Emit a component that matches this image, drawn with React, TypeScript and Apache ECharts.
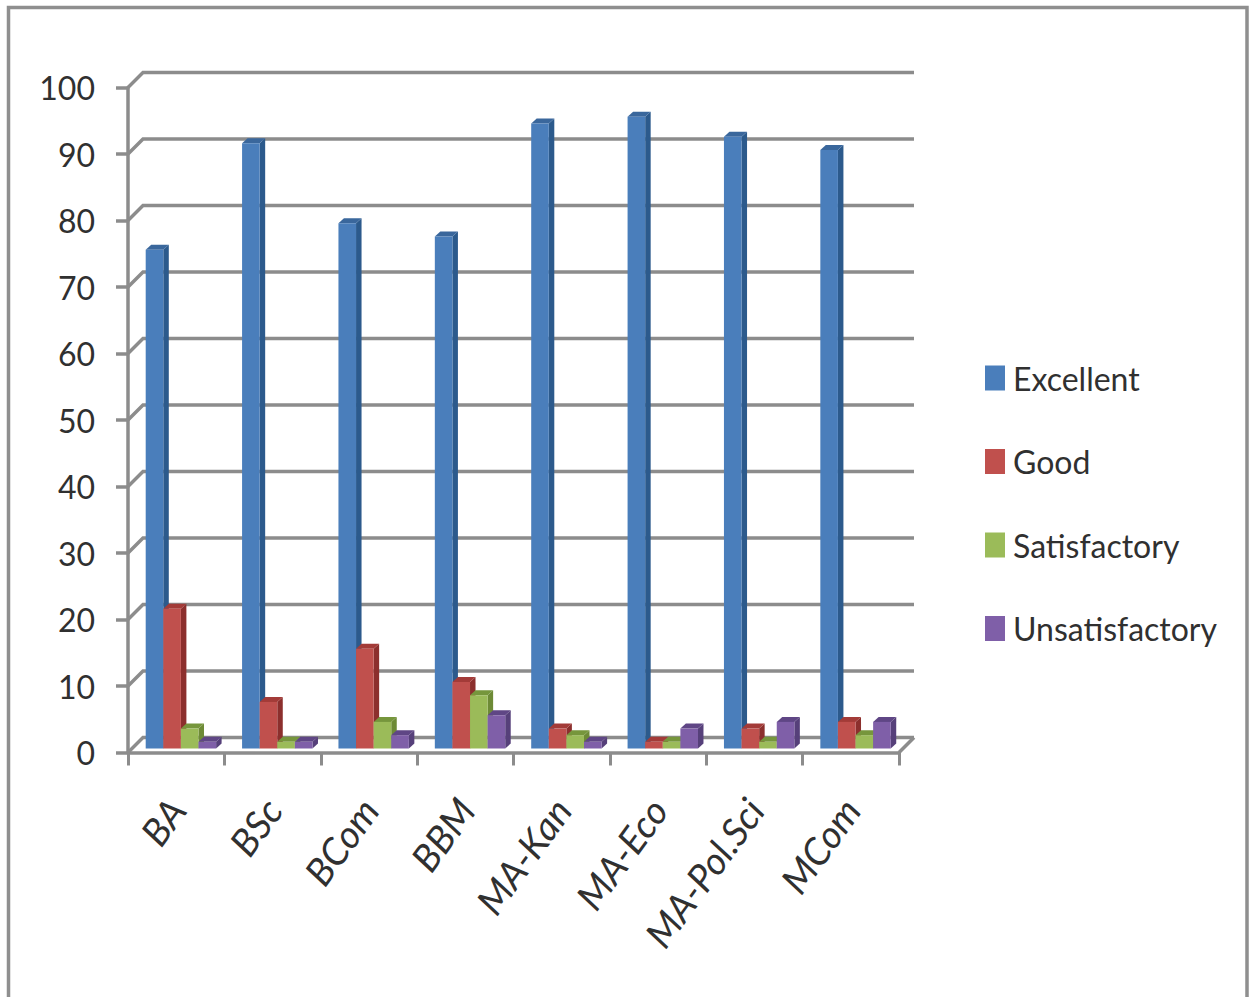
import React, { useEffect, useRef } from "react";
import * as echarts from "echarts";

const categories = ["BA", "BSc", "BCom", "BBM", "MA-Kan", "MA-Eco", "MA-Pol.Sci", "MCom"];
const excellent = [75, 91, 79, 77, 94, 95, 92, 90];
const good = [21, 7, 15, 10, 3, 1, 3, 4];
const satisfactory = [3, 1, 4, 8, 2, 1, 1, 2];
const unsatisfactory = [1, 1, 2, 5, 1, 3, 4, 4];
const gridTicks = [0, 10, 20, 30, 40, 50, 60, 70, 80, 90, 100];

const FONT = "Lato, 'Liberation Sans', sans-serif";
const LINE = "#8c8c8c";
const WALL = 15;
const BAR_W = 17.6;
const BAR_INSET = 17.7;
const LIFT = 4;
const DEPTH_X = 5.5;
const DEPTH_Y = 5;

function barSeries(name: string, values: number[], index: number, front: string, top: string, side: string) {
  return {
    name,
    type: "custom",
    data: values.map((v, i) => [i, v]),
    encode: { x: 0, y: 1 },
    itemStyle: { color: front },
    clip: false,
    z: 5,
    renderItem: (params: any, api: any) => {
      const p = api.coord([api.value(0), api.value(1)]);
      const base = api.coord([api.value(0), 0]);
      const band = api.size([1, 0])[0];
      const x0 = base[0] - band / 2 + BAR_INSET + index * BAR_W;
      const x1 = x0 + BAR_W;
      const yb = base[1] - LIFT;
      const yt = p[1] - LIFT;
      return {
        type: "group",
        children: [
          { type: "polygon", shape: { points: [[x1, yb], [x1 + DEPTH_X, yb - DEPTH_Y], [x1 + DEPTH_X, yt - DEPTH_Y], [x1, yt]] }, style: { fill: side } },
          { type: "polygon", shape: { points: [[x0, yt], [x1, yt], [x1 + DEPTH_X, yt - DEPTH_Y], [x0 + DEPTH_X, yt - DEPTH_Y]] }, style: { fill: top } },
          { type: "rect", shape: { x: x0, y: yt, width: BAR_W, height: yb - yt }, style: { fill: front } },
        ],
      };
    },
  };
}

export default function App() {
  const ref = useRef<HTMLDivElement>(null);
  useEffect(() => {
    const chart = echarts.init(ref.current!, null, { renderer: "svg" });
    chart.setOption({
      animation: false,
      backgroundColor: "#ffffff",
      graphic: [
        {
          type: "polyline",
          shape: { points: [[8.5, 997], [8.5, 7.5], [1247, 7.5], [1247, 997]] },
          style: { stroke: "#8f8f8f", lineWidth: 3.5, fill: "none" },
          z: 0,
        },
      ],
      grid: { left: 128, right: 351, top: 87.5, bottom: 244.5 },
      legend: {
        orient: "vertical",
        left: 985,
        top: 362,
        padding: 0,
        icon: "rect",
        itemWidth: 20,
        itemHeight: 25,
        itemGap: 51.5,
        data: ["Excellent", "Good", "Satisfactory", "Unsatisfactory"],
        selectedMode: false,
        textStyle: { fontFamily: FONT, fontSize: 32, color: "#303030", padding: [0, 0, 0, 3] },
      },
      xAxis: {
        type: "category",
        data: categories,
        axisLine: { show: true, onZero: false, lineStyle: { color: LINE, width: 3.5 } },
        axisTick: { show: true, alignWithLabel: false, length: 13, lineStyle: { color: LINE, width: 3 } },
        axisLabel: { rotate: 54, interval: 0, margin: 50, fontFamily: FONT, fontStyle: "italic", fontSize: 38, color: "#303030" },
      },
      yAxis: {
        type: "value",
        min: 0,
        max: 100,
        interval: 10,
        axisLine: { show: true, lineStyle: { color: LINE, width: 3.5 } },
        axisTick: { show: true, length: 12, lineStyle: { color: LINE, width: 3.5 } },
        splitLine: { show: false },
        axisLabel: { margin: 33, fontFamily: FONT, fontSize: 32, color: "#303030" },
      },
      series: [
        {
          name: "wall",
          type: "custom",
          data: gridTicks.map((t) => [0, t]),
          encode: { x: 0, y: 1 },
          clip: false,
          silent: true,
          z: 1,
          renderItem: (params: any, api: any) => {
            const y = api.coord([0, api.value(1)])[1];
            const x0 = params.coordSys.x;
            const x1 = x0 + params.coordSys.width;
            const style = { stroke: LINE, lineWidth: 3.5, fill: "none" };
            const children: any[] = [
              { type: "polyline", shape: { points: [[x0, y], [x0 + WALL, y - WALL], [x1 + WALL, y - WALL]] }, style },
            ];
            if (api.value(1) === 0) {
              children.push({ type: "line", shape: { x1, y1: y, x2: x1 + WALL, y2: y - WALL }, style });
            }
            return { type: "group", children };
          },
        },
        barSeries("Excellent", excellent, 0, "#4a7ebb", "#3a679c", "#2c5a8c"),
        barSeries("Good", good, 1, "#c0504d", "#a33b38", "#8c2f2d"),
        barSeries("Satisfactory", satisfactory, 2, "#9bbb59", "#76963c", "#6d8a36"),
        barSeries("Unsatisfactory", unsatisfactory, 3, "#7f5fa8", "#5f4685", "#56407a"),
      ],
    });
    return () => chart.dispose();
  }, []);
  return <div ref={ref} style={{ position: "absolute", left: 0, top: 0, width: 1250, height: 997 }} />;
}
